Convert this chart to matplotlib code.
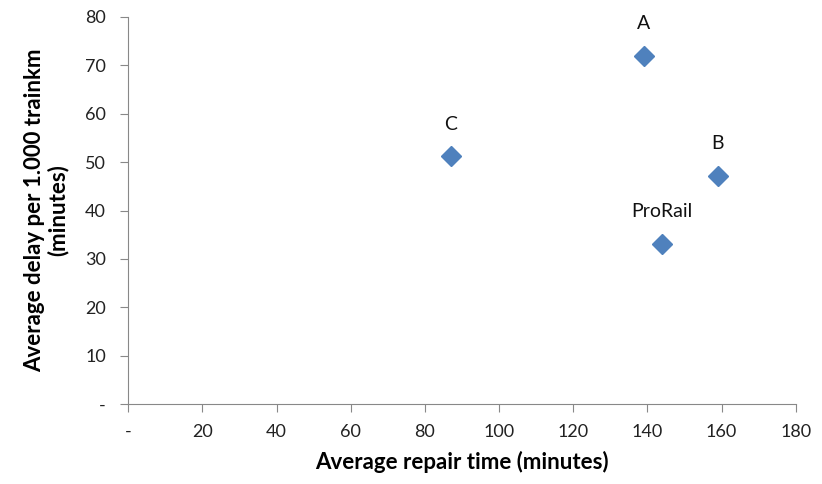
import numpy as np
import matplotlib.pyplot as plt

plt.rcParams['font.family'] = ['Lato', 'DejaVu Sans']

names = ['A', 'B', 'C', 'ProRail']
repair_time = [139, 159, 87, 144]
delay = [72, 47.2, 51.2, 33.1]

x_ticks = np.arange(0, 181, 20)
y_ticks = np.arange(0, 81, 10)

fig = plt.figure(figsize=[8.22, 4.84], dpi=100)
ax = fig.add_axes([0.156, 0.165, 0.812, 0.8])

ax.plot(repair_time, delay, linestyle='none', marker='D', markersize=10,
        color='#4F81BD', markeredgecolor='#4F81BD')
for n, xv, yv in zip(names, repair_time, delay):
    ax.annotate(n, (xv, yv), xytext=(0, 17), textcoords='offset points',
                ha='center', va='bottom', fontsize=14, color='#111111')

ax.set_xlim(0, 180)
ax.set_ylim(0, 80)
ax.set_xticks(x_ticks)
ax.set_yticks(y_ticks)
ax.set_xticklabels(['-'] + [str(v) for v in x_ticks[1:]])
ax.set_yticklabels(['-'] + [str(v) for v in y_ticks[1:]])

for s in ['top', 'right']:
    ax.spines[s].set_visible(False)
for s in ['left', 'bottom']:
    ax.spines[s].set_color('#888888')
ax.tick_params(colors='#888888', labelcolor='#222222', labelsize=13, length=6)
ax.tick_params(axis='x', pad=8)
ax.tick_params(axis='y', pad=10)

ax.set_xlabel('Average repair time (minutes)', fontsize=16, fontweight='bold', labelpad=8)
ax.set_ylabel('Average delay per 1.000 trainkm\n(minutes)', fontsize=16, fontweight='bold',
              labelpad=12, linespacing=1.1)

fig.savefig('out.png', dpi=100)
